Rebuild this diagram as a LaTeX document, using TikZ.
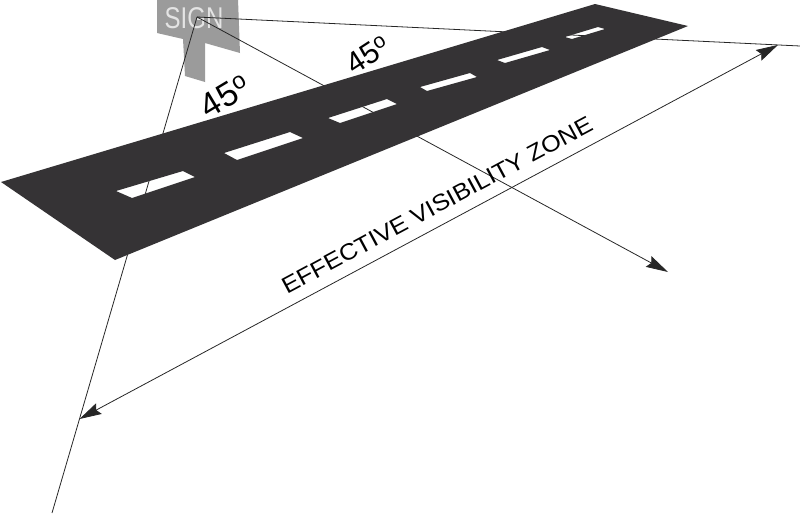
\documentclass[tikz,border=0pt]{standalone}
\usepackage{fontspec}
\setmainfont{Liberation Sans}
\usepackage{graphicx}
\usepackage{tikz}
\usetikzlibrary{calc,arrows.meta}
\usepackage{xcolor}
\definecolor{roadgray}{HTML}{353335}
\definecolor{signgray}{HTML}{9B9B9B}
\definecolor{signtext}{HTML}{E4E4E4}

\begin{document}
\begin{tikzpicture}[x=1pt,y=-1pt,
  sight/.style={draw=black!85,line width=0.8pt},
  tipend/.style={-{Stealth[length=22pt,width=12pt,inset=3pt]}},
  tipboth/.style={{Stealth[length=22pt,width=12pt,inset=3pt]}-{Stealth[length=22pt,width=12pt,inset=3pt]}}]
  \useasboundingbox (0,0) rectangle (800,515);
  \coordinate (pSign) at (197,17);
  \coordinate (pFar) at (800,46);
  \coordinate (pMid) at (668,272);
  \coordinate (pLow) at (52,513);
  \coordinate (pA) at ($(pSign)!0.8105!(pLow)$);
  \coordinate (pB) at ($(pSign)!0.9635!(pFar)$);
  \fill[signgray] (157,0) -- (238,-1) -- (240,53) -- (205,43) -- (205,82)
    -- (185,76) -- (183,39) -- (157,33) -- cycle;
  \node[text=signtext,font=\fontsize{30}{30}\selectfont,xscale=0.8] (sign) at (194,18) {SIGN};
  \draw[sight] (pSign) -- (pFar);
  \draw[sight,tipend] (pSign) -- (pMid);
  \draw[sight] (pSign) -- (pLow);
  \draw[sight,tipboth] (pA) -- (pB);
  \fill[roadgray,even odd rule] (1,182) -- (595,4) -- (688,26) -- (115,260) -- cycle
    \foreach \pa/\pb/\pc/\pd in {{116,191}/{183,171}/{195,177}/{132,198},
      {224,153}/{290,132}/{303,138}/{237,160},{328,118}/{387,99}/{397,104}/{340,123},
      {420,87}/{470,73}/{477,77}/{427,91},{497,60}/{542,47}/{550,50}/{505,63},
      {565,37}/{598,27}/{605,29}/{572,39}}
    {(\pa) -- (\pb) -- (\pc) -- (\pd) -- cycle};
  \node[rotate=31,font=\fontsize{34}{34}\selectfont] (angA) at (225,96) {45\textsuperscript{o}};
  \node[rotate=33,font=\fontsize{30}{30}\selectfont] (angB) at (368,55) {45\textsuperscript{o}};
  \node[rotate=28.2,font=\fontsize{23}{23}\selectfont] (zone) at (437,205)
    {\scalebox{1.1}[1]{EFFECTIVE VISIBILITY ZONE}};
\end{tikzpicture}
\end{document}
